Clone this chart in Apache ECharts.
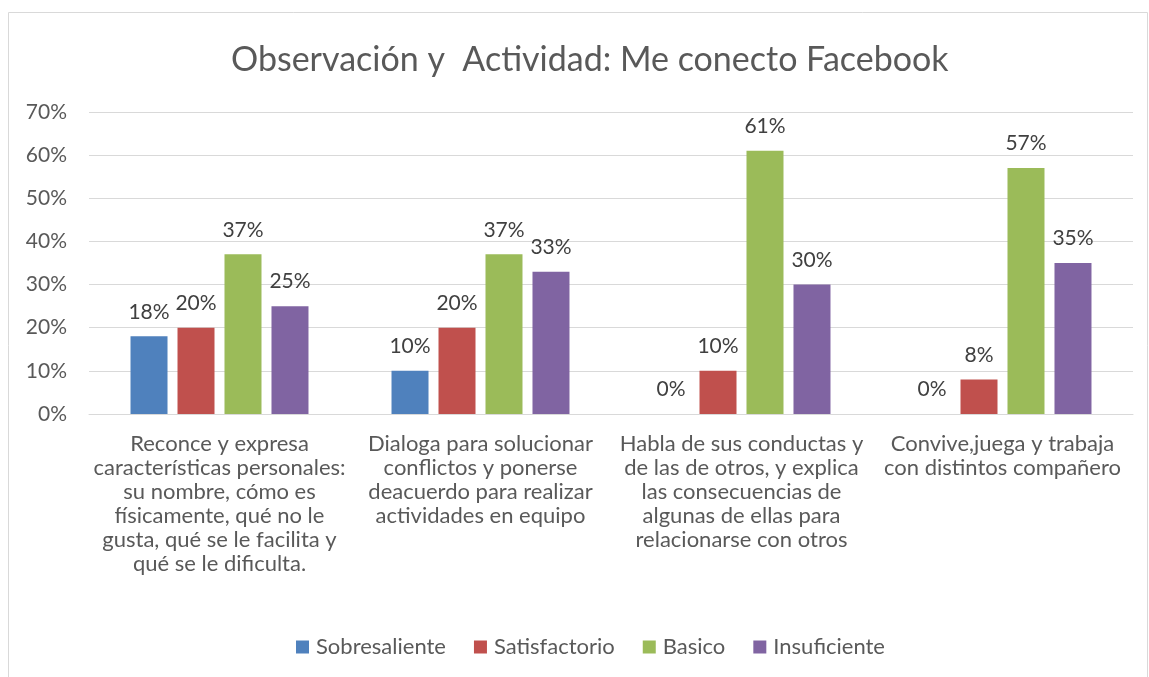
<!DOCTYPE html>
<html>
<head>
<meta charset="utf-8">
<script src="https://cdn.jsdelivr.net/npm/echarts@6/dist/echarts.min.js"></script>
<style>
html,body{margin:0;padding:0;background:#fff;}
#c{width:1149px;height:677px;}
</style>
</head>
<body>
<div id="c"></div>
<script>
var categories = [
  "Reconce y expresa\ncaracterísticas personales:\nsu nombre, cómo es\nfísicamente, qué no le\ngusta, qué se le facilita y\nqué se le dificulta.",
  "Dialoga para solucionar\nconflictos y ponerse\ndeacuerdo para realizar\nactividades en equipo",
  "Habla de sus conductas y\nde las de otros, y explica\nlas consecuencias de\nalgunas de ellas para\nrelacionarse con otros",
  "Convive,juega y trabaja\ncon distintos compañero"
];
var seriesNames = ["Sobresaliente", "Satisfactorio", "Basico", "Insuficiente"];
var sobresaliente = [18, 10, 0, 0];
var satisfactorio = [20, 20, 10, 8];
var basico = [37, 37, 61, 57];
var insuficiente = [25, 33, 30, 35];
var yTicks = [0, 10, 20, 30, 40, 50, 60, 70];

var colors = ["#4F81BD", "#C0504D", "#9BBB59", "#8064A2"];
var values = [sobresaliente, satisfactorio, basico, insuficiente];
var font = "Lato, 'Open Sans', sans-serif";

var chart = echarts.init(document.getElementById('c'));
chart.setOption({
  animation: false,
  color: colors,
  textStyle: {fontFamily: font},
  title: {
    text: "Observación y  Actividad: Me conecto Facebook",
    left: 226,
    top: 38,
    textStyle: {fontSize: 34, fontWeight: 'normal', color: '#595959', fontFamily: font}
  },
  graphic: [{
    type: 'rect',
    shape: {x: 8.5, y: 12.5, width: 1139, height: 700},
    style: {fill: 'none', stroke: '#d9d9d9', lineWidth: 1},
    silent: true
  }],
  legend: {
    data: seriesNames,
    top: 631,
    left: 291,
    itemWidth: 13,
    itemHeight: 13,
    itemGap: 28,
    icon: 'rect',
    textStyle: {fontSize: 22, color: '#595959', fontFamily: font, padding: [0, 0, 0, 2]}
  },
  grid: {left: 89, right: 16, top: 112, bottom: 263},
  xAxis: {
    type: 'category',
    data: categories,
    axisLine: {lineStyle: {color: '#d9d9d9', width: 1}},
    axisTick: {show: false},
    axisLabel: {
      interval: 0,
      fontSize: 22,
      lineHeight: 24,
      color: '#595959',
      margin: 18,
      fontFamily: font
    }
  },
  yAxis: {
    type: 'value',
    min: yTicks[0],
    max: yTicks[yTicks.length - 1],
    interval: 10,
    axisLine: {show: false},
    axisTick: {show: false},
    splitLine: {lineStyle: {color: '#d9d9d9', width: 1}},
    axisLabel: {
      formatter: '{value}%',
      fontSize: 21,
      color: '#595959',
      margin: 22,
      fontFamily: font
    }
  },
  series: seriesNames.map(function (n, i) {
    return {
      name: n,
      type: 'bar',
      data: values[i],
      barWidth: 37,
      barGap: '27%',
      itemStyle: {color: colors[i]},
      label: {
        show: true,
        position: 'top',
        distance: 14,
        formatter: '{c}%',
        fontSize: 21,
        color: '#404040',
        fontFamily: font
      }
    };
  })
});
</script>
</body>
</html>
